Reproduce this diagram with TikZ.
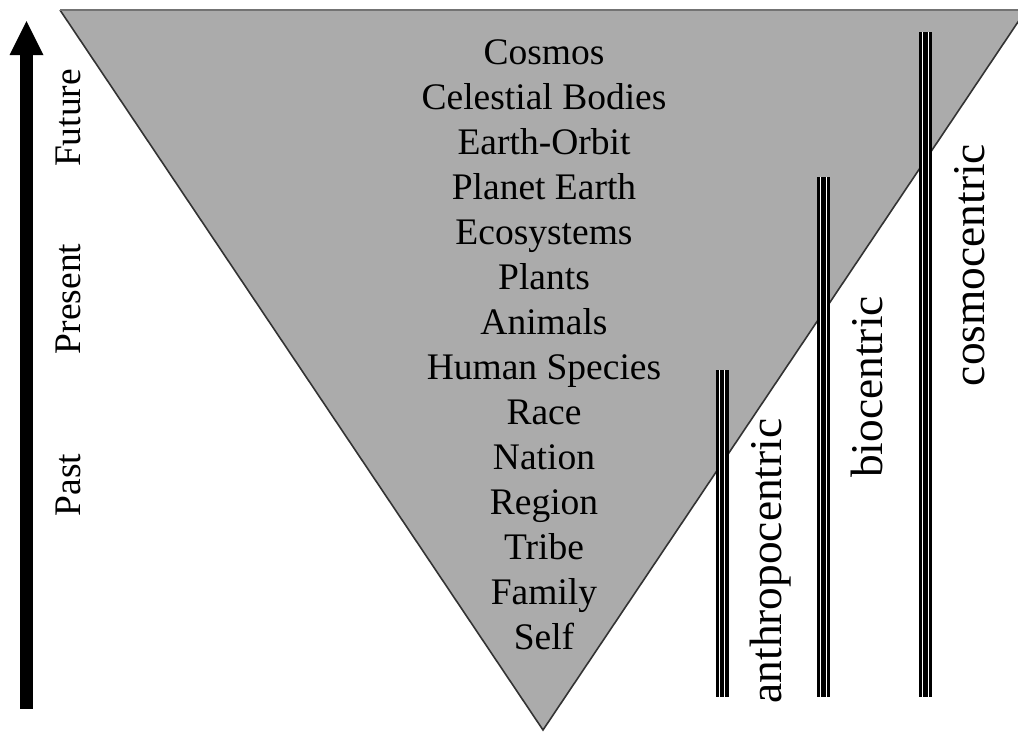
\documentclass[tikz,border=0pt]{standalone}
\usepackage{fontspec}
\setmainfont{Liberation Serif}
\begin{document}
\begin{tikzpicture}[x=1pt,y=-1pt,
  lbl/.style={inner sep=0pt,anchor=base,font=\fontsize{37.5}{45}\selectfont},
  rlbl/.style={inner sep=0pt,anchor=base,rotate=90,font=\fontsize{37.5}{45}\selectfont},
  blbl/.style={inner sep=0pt,anchor=base,rotate=90,font=\fontsize{45.4}{54}\selectfont},
  tri/.style={fill=black!33},
  bar/.style={line width=13pt,draw=black},
  gap/.style={line width=1.3pt,draw=white}]
\useasboundingbox (0,0) rectangle (1018,732);
% triangle
\coordinate (TL) at (60,10);
\coordinate (TR) at (1026,10);
\coordinate (AP) at (543,730);
\fill[tri] (TL) -- (TR) -- (AP) -- cycle;
\draw[line width=1.6pt,black!80] (TR) -- (AP) -- (TL);
\draw[line width=2pt,black!55] (TL) -- (TR);
% labels
\foreach \t [count=\i from 0] in {Cosmos,Celestial Bodies,Earth-Orbit,Planet Earth,Ecosystems,Plants,Animals,Human Species,Race,Nation,Region,Tribe,Family,Self}
  \node[lbl] (L\i) at (544,{64+45*\i}) {\t};
% time arrow
\coordinate (AB) at (26.5,709);
\coordinate (AT) at (26.5,21);
\fill[black] (20,709) rectangle (33,50);
\fill[black] (AT) -- (43.5,55) -- (9.5,55) -- cycle;
\node[rlbl] (future) at (80,118) {Future};
\node[rlbl] (present) at (80,299) {Present};
\node[rlbl] (past) at (80,485) {Past};
% bars
\foreach \x/\top [count=\j] in {722/370,823.5/177,925.5/32} {
  \coordinate (B\j top) at (\x,\top);
  \coordinate (B\j bot) at (\x,697);
  \draw[bar] (B\j top) -- (B\j bot);
  \draw[gap] ([xshift=-2.8pt]B\j top) -- ([xshift=-2.8pt]B\j bot);
  \draw[gap] ([xshift=2.8pt]B\j top) -- ([xshift=2.8pt]B\j bot);
}
\node[blbl] (anthro) at (781,561) {anthropocentric};
\node[blbl] (bio) at (882,387) {biocentric};
\node[blbl] (cosmo) at (984,265) {cosmocentric};
\end{tikzpicture}
\end{document}
